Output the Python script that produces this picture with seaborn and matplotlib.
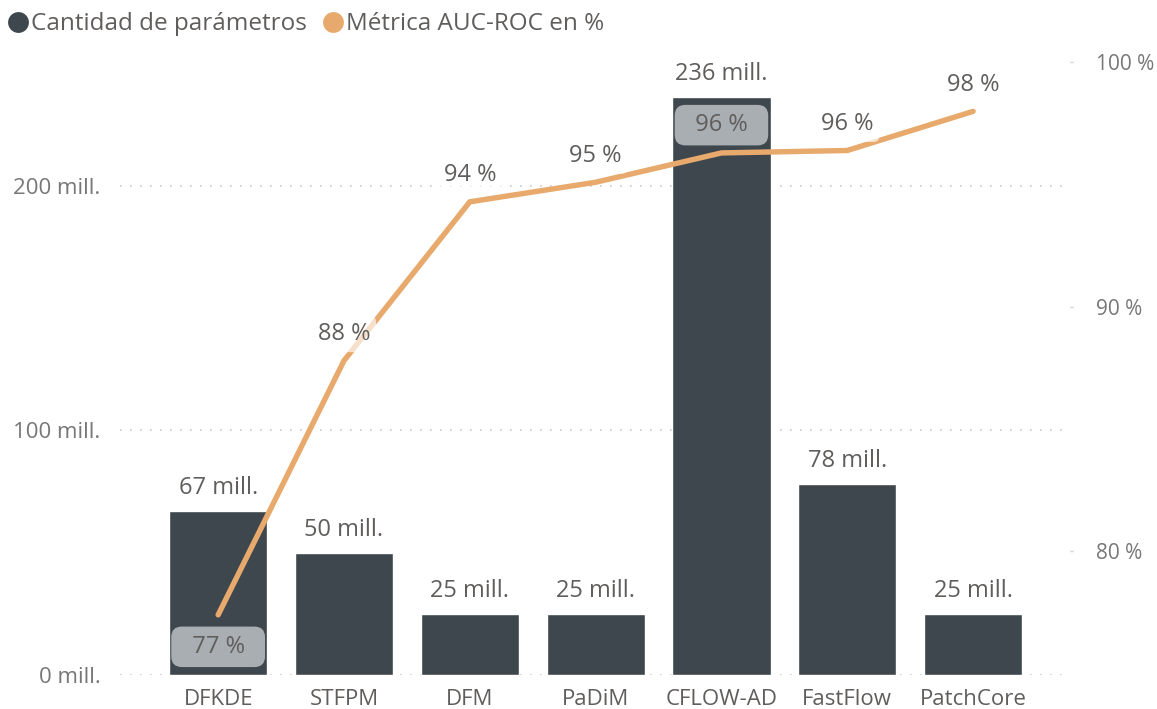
import matplotlib
matplotlib.use("Agg")
import matplotlib.pyplot as plt
import seaborn as sns
from matplotlib.lines import Line2D

# datos
modelos = ["DFKDE", "STFPM", "DFM", "PaDiM", "CFLOW-AD", "FastFlow", "PatchCore"]
parametros = [67, 50, 25, 25, 236, 78, 25]          # millones
auc_roc = [77.4, 87.8, 94.3, 95.1, 96.3, 96.4, 98.0]  # %

COLOR_BARRA = "#3D474D"
COLOR_LINEA = "#E8A96C"
COLOR_TEXTO = "#605E5C"
COLOR_EJE = "#777777"

sns.set_style("white")
plt.rcParams["font.family"] = ["Open Sans", "DejaVu Sans"]

fig = plt.figure(figsize=(11.57, 7.09), dpi=100)
ax = fig.add_axes([120 / 1157, 34 / 709, 950 / 1157, 613 / 709])

sns.barplot(x=modelos, y=parametros, color=COLOR_BARRA, saturation=1,
            width=0.78, ax=ax, zorder=2)
ax.bar_label(ax.containers[0], labels=[f"{v} mill." for v in parametros],
             padding=8, fontsize=17, color=COLOR_TEXTO)

ax.set_ylim(0, 250.5)
ax.set_xlim(-0.78, 6.77)
ax.set_yticks([0, 100, 200])
ax.set_yticklabels([f"{v} mill." for v in [0, 100, 200]])
ax.grid(axis="y", color="#C8C8C8", linestyle=(0, (1, 5)), linewidth=1.2, zorder=0)
ax.set_axisbelow(True)
ax.tick_params(axis="y", length=0, pad=14, labelsize=16, labelcolor=COLOR_EJE)
ax.tick_params(axis="x", length=0, pad=10, labelsize=16, labelcolor=COLOR_TEXTO)
ax.set_xlabel("")
ax.set_ylabel("")
sns.despine(ax=ax, left=True, bottom=True)

# linea AUC-ROC en eje secundario
ax2 = ax.twinx()
sns.lineplot(x=modelos, y=auc_roc, sort=False, color=COLOR_LINEA,
             linewidth=3.9, ax=ax2, zorder=3)
ax2.set_ylim(74.94, 100.02)
ax2.set_yticks([80, 90, 100])
ax2.set_yticklabels([f"{v} %" for v in [80, 90, 100]])
ax2.tick_params(axis="y", length=2, width=1, color="#D0D0D0", pad=17,
                labelsize=15, labelcolor=COLOR_EJE)
ax2.set_ylabel("")
sns.despine(ax=ax2, left=True, bottom=True, right=True)

# etiquetas de la linea; las que caen sobre una barra van en caja gris
for i, v in enumerate(auc_roc):
    txt = f"{round(v)} %"
    if i == 0:
        ax2.annotate(f"  {txt}  ", (i, v), xytext=(0, -23), textcoords="offset points",
                     ha="center", va="center", fontsize=17, color=COLOR_TEXTO, zorder=5,
                     bbox=dict(boxstyle="round,pad=0.35,rounding_size=0.45",
                               fc="#A8AEB2", ec="none"))
    elif i == 4:
        ax2.annotate(f"  {txt}  ", (i, v), xytext=(0, 20), textcoords="offset points",
                     ha="center", va="center", fontsize=17, color=COLOR_TEXTO, zorder=5,
                     bbox=dict(boxstyle="round,pad=0.35,rounding_size=0.45",
                               fc="#A8AEB2", ec="none"))
    else:
        ax2.annotate(txt, (i, v), xytext=(0, 19), textcoords="offset points",
                     ha="center", va="center", fontsize=17, color=COLOR_TEXTO, zorder=5,
                     bbox=dict(boxstyle="round,pad=0.25", fc="white", ec="none", alpha=0.65))

handles = [
    Line2D([], [], marker="o", linestyle="none", markersize=15,
           markerfacecolor=COLOR_BARRA, markeredgecolor="none", label="Cantidad de parámetros"),
    Line2D([], [], marker="o", linestyle="none", markersize=15,
           markerfacecolor=COLOR_LINEA, markeredgecolor="none", label="Métrica AUC-ROC en %"),
]
fig.legend(handles=handles, loc="upper left", bbox_to_anchor=(-0.013, 1.01), ncol=2,
           frameon=False, fontsize=17.5, labelcolor=COLOR_TEXTO,
           handletextpad=0.0, columnspacing=0.5, handlelength=1.1, borderpad=0.3)

fig.savefig("out.png", dpi=100, facecolor="white")
